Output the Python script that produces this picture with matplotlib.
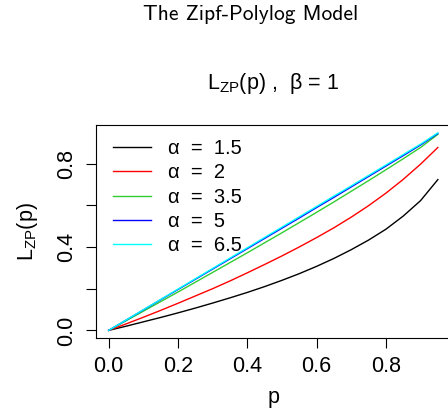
import matplotlib.pyplot as plt
import numpy as np

plt.rcParams["font.family"] = ["Liberation Sans", "DejaVu Sans"]
plt.rcParams["mathtext.fontset"] = "custom"
plt.rcParams["mathtext.rm"] = "Liberation Sans"

# Lorenz curves, p = 0, 0.05, ..., 0.95
p = [0.00, 0.05, 0.10, 0.15, 0.20, 0.25, 0.30, 0.35, 0.40, 0.45,
     0.50, 0.55, 0.60, 0.65, 0.70, 0.75, 0.80, 0.85, 0.90, 0.95]
alphas = ["1.5", "2", "3.5", "5", "6.5"]
L_a15 = [0.000, 0.020, 0.041, 0.062, 0.084, 0.107, 0.131, 0.156, 0.182, 0.210,
         0.240, 0.272, 0.307, 0.345, 0.387, 0.433, 0.485, 0.548, 0.622, 0.723]
L_a2 = [0.000, 0.031, 0.063, 0.096, 0.130, 0.165, 0.200, 0.237, 0.276, 0.316,
        0.357, 0.400, 0.445, 0.492, 0.543, 0.598, 0.658, 0.724, 0.797, 0.877]
L_a35 = [0.000, 0.046, 0.092, 0.138, 0.184, 0.231, 0.278, 0.325, 0.372, 0.420,
         0.468, 0.517, 0.566, 0.616, 0.667, 0.718, 0.770, 0.823, 0.877, 0.940]
L_a5 = [0.000, 0.049, 0.098, 0.147, 0.196, 0.245, 0.294, 0.343, 0.392, 0.441,
        0.490, 0.539, 0.589, 0.638, 0.688, 0.738, 0.788, 0.838, 0.889, 0.944]
L_a65 = [0.000, 0.0495, 0.099, 0.1485, 0.198, 0.2475, 0.297, 0.3465, 0.396, 0.4455,
         0.495, 0.5445, 0.594, 0.644, 0.693, 0.743, 0.793, 0.843, 0.893, 0.947]
curves = [L_a15, L_a2, L_a35, L_a5, L_a65]
colors = ["black", "#FF0000", "#32CD32", "#0000FF", "#00FFFF"]

fig = plt.figure(figsize=(4.48, 4.16), dpi=100)
ax = fig.add_axes([0.2132, 0.1868, 0.7935, 0.5127])

for L, col, a in zip(curves, colors, alphas):
    ax.plot(p, L, color=col, lw=1.0, label="α  =  " + a)

# R style 4% padding
def pad(v):
    lo, hi = min(v), max(v)
    r = hi - lo
    return lo - 0.04 * r, hi + 0.04 * r

ax.set_xlim(*pad(p))
ax.set_ylim(*pad(L_a15 + L_a65))
ax.set_xticks([0.0, 0.2, 0.4, 0.6, 0.8])
ax.set_yticks([0.0, 0.2, 0.4, 0.6, 0.8])
ax.set_xticklabels(["0.0", "0.2", "0.4", "0.6", "0.8"])
ax.set_yticklabels(["0.0", "", "0.4", "", "0.8"], rotation=90, va="center")
ax.tick_params(direction="out", length=7, width=0.8, labelsize=15.5, pad=6)
for s in ax.spines.values():
    s.set_linewidth(0.8)

ax.set_xlabel("p", fontsize=15.5, labelpad=7)
ax.set_ylabel(r"$\mathregular{L_{ZP}}$(p)", fontsize=15.5, labelpad=12)
ax.set_title(r"$\mathregular{L_{ZP}}$(p) ,  β = 1", fontsize=15.5, pad=26)

ax.legend(loc="upper left", bbox_to_anchor=(0.014, 0.99), frameon=False,
          fontsize=14.5, handlelength=1.9, handletextpad=0.85, labelspacing=0.26,
          borderaxespad=0.2)

fig.text(251 / 448, 1 - 14 / 416, "The Zipf-Polylog Model", family="cmss10",
         fontsize=15.5, ha="center", va="center")

fig.savefig("out.png", dpi=100)
